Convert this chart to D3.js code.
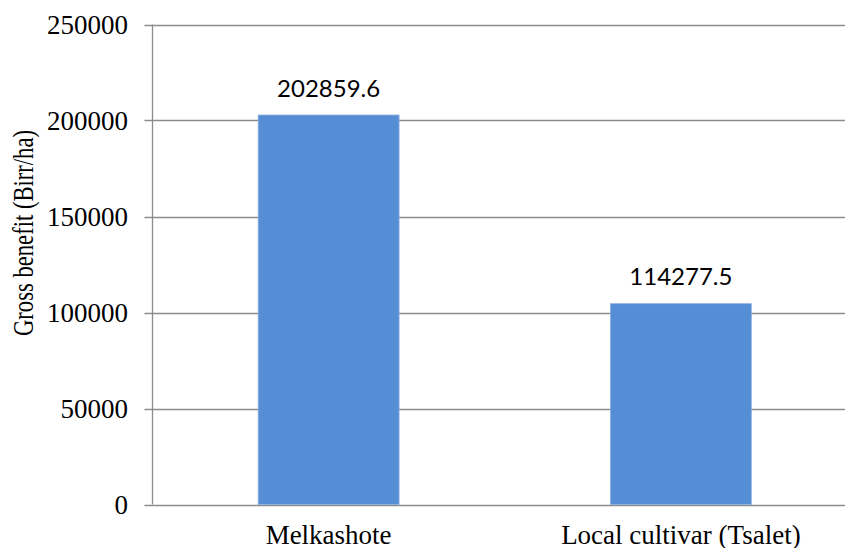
<!DOCTYPE html>
<html>
<head>
<meta charset="utf-8">
<script src="https://cdn.jsdelivr.net/npm/d3@7"></script>
<style>
  body { margin: 0; background: #fff; }
  svg { display: block; }
</style>
</head>
<body>
<script>
// chart data
var categories = ["Melkashote", "Local cultivar (Tsalet)"];
var values = [202859.6, 104600];            // bar heights as drawn
var labels = ["202859.6", "114277.5"];      // printed data labels
var yTicks = [0, 50000, 100000, 150000, 200000, 250000];

var width = 845,
    height = 548;

var svg = d3.select("body").append("svg")
    .attr("width", width)
    .attr("height", height);

// plot area (right edge runs past the picture, as in the reference)
var plotLeft = 152.5, plotRight = 857, plotTop = 24.5, plotBottom = 504.5;

var x = d3.scaleBand()
    .domain(categories)
    .range([plotLeft, plotRight])
    .paddingInner(0.6)
    .paddingOuter(0.3);

var y = d3.scaleLinear()
    .domain([0, 250000])
    .range([plotBottom, plotTop]);

// gridlines
svg.append("g")
  .selectAll("line")
  .data(yTicks)
  .enter().append("line")
    .attr("x1", plotLeft - 8)
    .attr("x2", plotRight)
    .attr("y1", function(d) { return Math.round(y(d)) + 0.5; })
    .attr("y2", function(d) { return Math.round(y(d)) + 0.5; })
    .attr("stroke", "#8c8c8c")
    .attr("stroke-width", 1.3);

// bars
svg.append("g")
  .selectAll("rect")
  .data(values)
  .enter().append("rect")
    .attr("x", function(d, i) { return x(categories[i]); })
    .attr("width", x.bandwidth())
    .attr("y", function(d) { return y(d); })
    .attr("height", function(d) { return y(0) - y(d); })
    .attr("fill", "#558ed5")
    .attr("stroke", "#8db0e2")
    .attr("stroke-width", 0.8);

// y axis line
svg.append("line")
    .attr("x1", plotLeft).attr("x2", plotLeft)
    .attr("y1", plotTop).attr("y2", plotBottom)
    .attr("stroke", "#8c8c8c")
    .attr("stroke-width", 1.3);

// y tick labels
svg.append("g")
  .selectAll("text")
  .data(yTicks)
  .enter().append("text")
    .attr("x", 128)
    .attr("y", function(d) { return y(d); })
    .attr("dy", "0.34em")
    .attr("text-anchor", "end")
    .attr("font-family", "'Liberation Serif', 'Times New Roman', serif")
    .attr("font-size", 27)
    .attr("fill", "#000")
    .text(function(d) { return d; });

// category labels
svg.append("g")
  .selectAll("text")
  .data(categories)
  .enter().append("text")
    .attr("x", function(d) { return x(d) + x.bandwidth() / 2; })
    .attr("y", 544)
    .attr("text-anchor", "middle")
    .attr("font-family", "'Liberation Serif', 'Times New Roman', serif")
    .attr("font-size", 27)
    .attr("fill", "#000")
    .text(function(d) { return d; });

// data labels above bars
svg.append("g")
  .selectAll("text")
  .data(values)
  .enter().append("text")
    .attr("x", function(d, i) { return x(categories[i]) + x.bandwidth() / 2; })
    .attr("y", function(d) { return y(d) - 18.5; })
    .attr("text-anchor", "middle")
    .attr("font-family", "Lato, 'Open Sans', sans-serif")
    .attr("font-size", 24)
    .attr("fill", "#000")
    .text(function(d, i) { return labels[i]; });

// y axis title (glyphs are squeezed along the text in the reference)
svg.append("text")
    .attr("transform", "translate(33,233) rotate(-90) scale(0.78,1)")
    .attr("text-anchor", "middle")
    .attr("font-family", "'Liberation Serif', 'Times New Roman', serif")
    .attr("font-size", 29)
    .attr("fill", "#000")
    .text("Gross benefit (Birr/ha)");
</script>
</body>
</html>
